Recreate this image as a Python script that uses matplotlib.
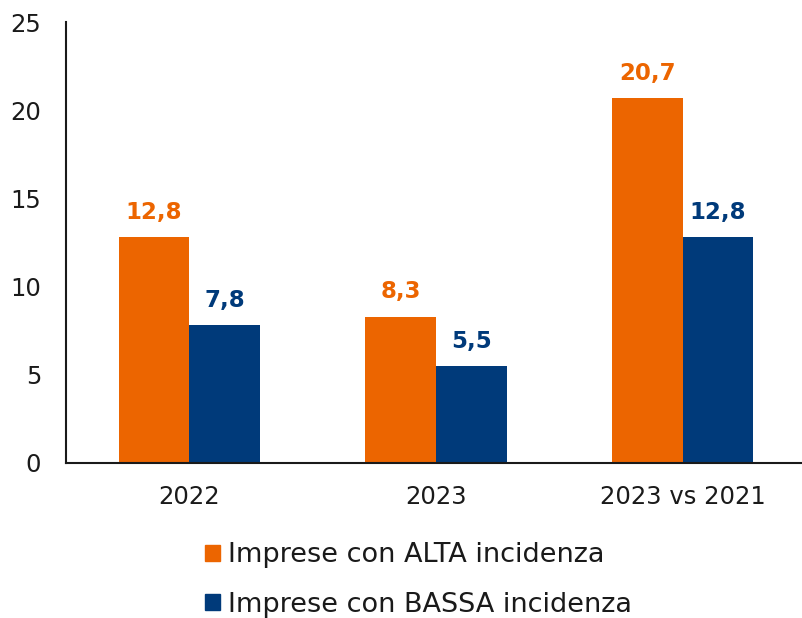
import matplotlib
matplotlib.use("Agg")
import matplotlib.pyplot as plt
from matplotlib.patches import Patch
import numpy as np

categories = ["2022", "2023", "2023 vs 2021"]
alta = [12.8, 8.3, 20.7]
bassa = [7.8, 5.5, 12.8]
series_names = ["Imprese con ALTA incidenza", "Imprese con BASSA incidenza"]
yticks = [0, 5, 10, 15, 20, 25]

orange = "#EC6500"
blue = "#003A7A"

plt.rcParams['font.family'] = ['DejaVu Sans']

fig = plt.figure(figsize=(8.02, 6.18), dpi=100)
ax = fig.add_axes([66/802, 155/618, 740/802, 441/618])

x = np.arange(len(categories))
w = 0.287
b1 = ax.bar(x - w/2, alta, w, color=orange, label=series_names[0])
b2 = ax.bar(x + w/2, bassa, w, color=blue, label=series_names[1])

def fmt(v):
    return f"{v:.1f}".replace(".", ",")

for rects, vals, col in ((b1, alta, orange), (b2, bassa, blue)):
    for r, v in zip(rects, vals):
        ax.annotate(fmt(v), (r.get_x() + r.get_width()/2, v), xytext=(0, 9.5),
                    textcoords="offset points", ha="center", va="bottom",
                    fontsize=16.5, fontweight="bold", color=col)

ax.set_ylim(0, 25)
ax.set_xlim(-0.5, 2.5)
ax.set_yticks(yticks)
ax.set_xticks(x)
ax.set_xticklabels(categories)
ax.tick_params(axis="both", length=0, labelsize=17.5, colors="#1a1a1a")
ax.tick_params(axis="y", pad=18)
ax.tick_params(axis="x", pad=16)
for s in ("top", "right"):
    ax.spines[s].set_visible(False)
for s in ("left", "bottom"):
    ax.spines[s].set_linewidth(1.5)
    ax.spines[s].set_color("#1a1a1a")

handles = [Patch(color=orange), Patch(color=blue)]
fig.legend(handles, series_names, loc="center left",
           bbox_to_anchor=(205/802, 1 - 580/618), frameon=False,
           fontsize=19.5, handlelength=0.56, handleheight=0.56,
           handletextpad=0.3, labelspacing=0.85, borderpad=0,
           borderaxespad=0, labelcolor="#1a1a1a")

fig.savefig("out.png", dpi=100)
